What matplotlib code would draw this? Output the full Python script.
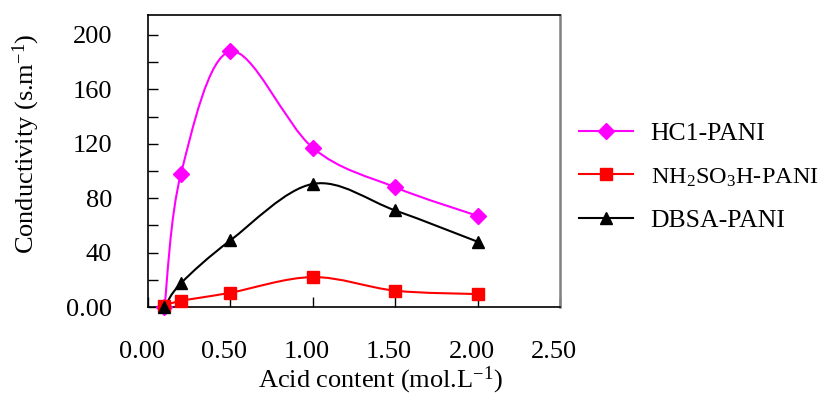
import numpy as np
import matplotlib
matplotlib.use("Agg")
import matplotlib.pyplot as plt
from matplotlib.path import Path
from matplotlib.patches import PathPatch
from matplotlib.lines import Line2D
import matplotlib.transforms as mtransforms

plt.rcParams['font.family'] = ['Liberation Serif', 'DejaVu Serif']
plt.rcParams['mathtext.fontset'] = 'custom'
plt.rcParams['mathtext.rm'] = 'Liberation Serif'
plt.rcParams['mathtext.it'] = 'Liberation Serif:italic'

# ---- data ----
acid = [0.1, 0.2, 0.5, 1.0, 1.5, 2.0]
hcl = [0, 98, 188, 117, 88, 67]
nh2so3h = [1, 4.5, 10.5, 22, 12, 9.5]
dbsa = [0, 17.5, 49, 90.5, 71, 48]

series_names = ["HC1-PANI", r"NH$\mathregular{_2}$SO$\mathregular{_3}$H-PANI", "DBSA-PANI"]
series_vals = [hcl, nh2so3h, dbsa]
colors = ["#FF00FF", "#FF0000", "#000000"]
markers = ["D", "s", "^"]
msizes = [8, 8, 9]

ytick_vals = [0, 40, 80, 120, 160, 200]
ytick_labels = ["0.00", "40", "80", "120", "160", "200"]
xtick_vals = [0.0, 0.5, 1.0, 1.5, 2.0, 2.5]
xtick_labels = ["0.00", "0.50", "1.00", "1.50", "2.00", "2.50"]

FS = 19


def smooth_path(x, y):
    """Excel-like smoothed line: Catmull-Rom converted to cubic Bezier."""
    pts = np.column_stack([x, y]).astype(float)
    n = len(pts)
    verts = [pts[0]]
    codes = [Path.MOVETO]
    for i in range(n - 1):
        p0 = pts[i - 1] if i > 0 else pts[i]
        p1 = pts[i]
        p2 = pts[i + 1]
        p3 = pts[i + 2] if i + 2 < n else pts[i + 1]
        c1 = p1 + (p2 - p0) / 6.0
        c2 = p2 - (p3 - p1) / 6.0
        verts += [c1, c2, p2]
        codes += [Path.CURVE4] * 3
    return Path(verts, codes)


fig = plt.figure(figsize=(8.23, 3.96), dpi=100)
ax = fig.add_axes([148 / 823, 1 - 307 / 396, (560 - 148) / 823, (307 - 15) / 396])

for vals, c, m, ms in zip(series_vals, colors, markers, msizes):
    patch = PathPatch(smooth_path(acid, vals), facecolor='none', edgecolor=c, lw=1.5, zorder=2)
    ax.add_patch(patch)
    ax.plot(acid, vals, linestyle='none', marker=m, color=c, ms=ms, zorder=3,
            clip_on=False)

ax.set_xlim(0, 2.5)
ax.set_ylim(0, 214.7)

ax.set_yticks(ytick_vals)
ax.set_yticklabels(ytick_labels, fontsize=FS)
ax.set_yticks(np.arange(20, 201, 40), minor=True)
ax.set_xticks(xtick_vals)
ax.set_xticklabels(xtick_labels, fontsize=FS)

ax.tick_params(axis='y', which='both', direction='in', length=7, width=1, pad=26, right=False)
ax.tick_params(axis='x', which='both', direction='in', length=7, width=1, pad=24.5, top=False)

offset = mtransforms.ScaledTranslation(-6 / 100, 0, fig.dpi_scale_trans)
for lbl in ax.get_xticklabels():
    lbl.set_transform(lbl.get_transform() + offset)

for s in ['left', 'bottom', 'top']:
    ax.spines[s].set_color('black')
    ax.spines[s].set_linewidth(1.2)
ax.spines['right'].set_color('#808080')
ax.spines['right'].set_linewidth(1.8)

ax.set_xlabel(r"Acid content (mol.L$\mathregular{^{-1}}$)", fontsize=FS)
ax.xaxis.set_label_coords((380 - 148) / 412, (307 - 365) / 292)
ax.set_ylabel(r"Conductivity (s.m$\mathregular{^{-1}}$)", fontsize=FS)
ax.yaxis.set_label_coords((42 - 148) / 412, (307 - 144) / 292)

handles = [Line2D([], [], color=c, marker=m, ms=ms, lw=1.5) for c, m, ms in zip(colors, markers, msizes)]
leg = fig.legend(handles, series_names, loc='upper left', bbox_to_anchor=(569 / 823, 1 - 112 / 396),
                 frameon=False, fontsize=18.5, handlelength=2.1, labelspacing=0.78, handletextpad=0.68,
                 borderaxespad=0)
leg.get_texts()[1].set_fontsize(17.5)

fig.savefig("out.png", dpi=100)
